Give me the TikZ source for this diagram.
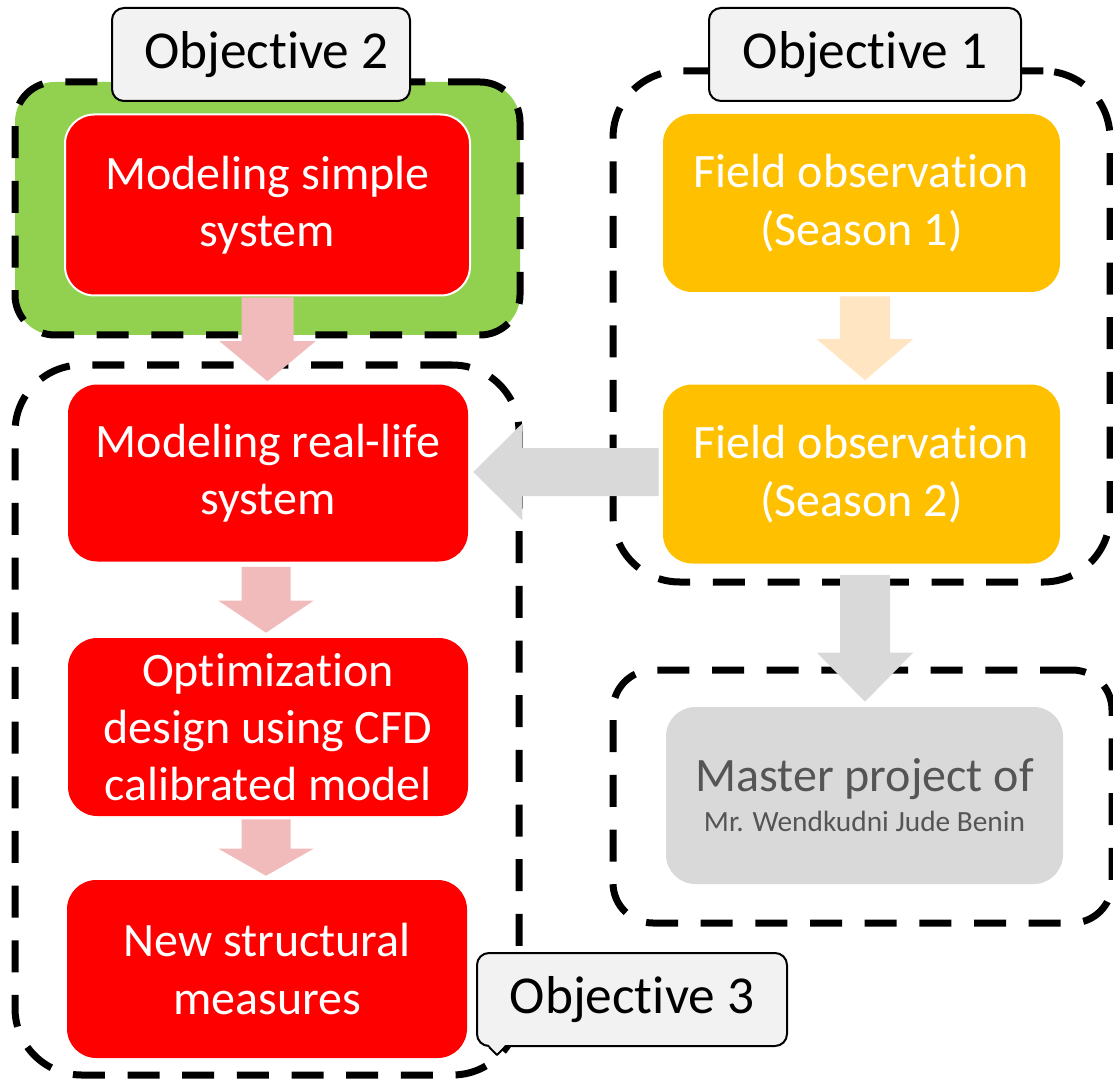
\documentclass[tikz,border=0pt]{standalone}
\usepackage{fontspec}
\setmainfont{Carlito}[Ligatures={NoCommon}]
\usetikzlibrary{calc}
\definecolor{cred}{HTML}{FF0000}
\definecolor{cgreen}{HTML}{92D050}
\definecolor{corange}{HTML}{FFC000}
\definecolor{cpink}{HTML}{F1BBBB}
\definecolor{cpeach}{HTML}{FFE5C2}
\definecolor{cgray}{HTML}{D9D9D9}
\definecolor{clabel}{HTML}{F2F2F2}
\definecolor{ctext}{HTML}{555555}
\newcommand\blkdown[6]{%
  \coordinate (bdS) at (#1);
  \coordinate (bdT) at (#1|-#2);
  \fill[#6] ($(bdS)+(-#3,0)$) -- ($(bdT)+(-#3,-#5)$) -- ($(bdT)+(-#4,-#5)$) -- (bdT)
    -- ($(bdT)+(#4,-#5)$) -- ($(bdT)+(#3,-#5)$) -- ($(bdS)+(#3,0)$) -- cycle;}
\newcommand\blkleft[6]{%
  \coordinate (blS) at (#1);
  \coordinate (blT) at (#2|-#1);
  \fill[#6] ($(blS)+(0,-#3)$) -- ($(blT)+(#5,-#3)$) -- ($(blT)+(#5,-#4)$) -- (blT)
    -- ($(blT)+(#5,#4)$) -- ($(blT)+(#5,#3)$) -- ($(blS)+(0,#3)$) -- cycle;}
\begin{document}
\begin{tikzpicture}[x=0.75pt,y=-0.75pt,
  grp/.style={draw=black, line width=5.25pt, dash pattern=on 24pt off 17pt,
    rounded corners=#1, inner sep=0pt},
  box/.style={rounded corners=22pt, inner sep=0pt, align=center,
    font=\fontsize{36}{43}\selectfont, minimum width=300pt, minimum height=133.5pt},
  redbox/.style={box, fill=cred, text=white},
  orgbox/.style={box, fill=corange, text=white},
  lbl/.style={draw=black, line width=1.5pt, fill=clabel, rounded corners=9pt,
    inner sep=0pt, minimum height=69.75pt, font=\fontsize{40}{48}\selectfont}
]
\useasboundingbox (0,0) rectangle (1113,1080);
% groups
\node[grp=30pt, fill=cgreen, minimum width=378.75pt, minimum height=189.75pt] (g2) at (267.5,208.5) {};
\node[grp=50pt, minimum width=378pt, minimum height=532.5pt] (g3) at (267,720) {};
\node[grp=50pt, minimum width=372.75pt, minimum height=383.25pt] (g1) at (861.5,326.5) {};
\node[grp=30pt, minimum width=374.25pt, minimum height=189.75pt] (gm) at (862.5,796.5) {};
% boxes
\node[redbox, draw=white, line width=1.5pt, minimum width=303.75pt, minimum height=135.75pt] (simple) at (267.5,205) {Modeling simple\\system};
\node[redbox, minimum height=132.75pt] (real) at (268,473) {Modeling real-life\\system};
\node[redbox] (optim) at (268,727) {Optimization\\design using CFD\\calibrated model};
\node[redbox] (newm) at (267,969) {New structural\\measures};
\node[orgbox, minimum width=297.75pt] (fs1) at (861.5,203) {Field observation\\(Season 1)};
\node[orgbox, minimum width=297.75pt, minimum height=134.25pt] (fs2) at (861.5,474) {Field observation\\(Season 2)};
\node[box, fill=cgray, text=ctext, minimum width=297.75pt, minimum height=132.75pt] (master) at (864.5,795.5)
  {\raisebox{-4pt}{Master project of}\\[-9pt]{\fontsize{22}{26}\selectfont Mr. Wendkudni Jude Benin}};
% arrows
\coordinate (a1s) at ($(simple.south)+(0,1)$);
\coordinate (a1t) at ($(real.north)+(0,-3)$);
\blkdown{a1s}{a1t}{26}{48}{40}{cpink}
\coordinate (a2s) at ($(real.south)+(-2,5)$);
\coordinate (a2t) at ($(optim.north)+(0,-5)$);
\blkdown{a2s}{a2t}{24.5}{47.5}{32}{cpink}
\coordinate (a3s) at ($(optim.south)+(-2,3)$);
\coordinate (a3t) at ($(newm.north)+(0,-4)$);
\blkdown{a3s}{a3t}{24.5}{47.5}{27}{cpink}
\coordinate (a4s) at ($(fs1.south)+(3.5,4)$);
\coordinate (a4t) at ($(fs2.north)+(0,-4)$);
\blkdown{a4s}{a4t}{25}{48}{41}{cpeach}
\coordinate (a5s) at ($(fs2.south)+(3.5,11)$);
\coordinate (a5t) at ($(master.north)+(0,-5)$);
\blkdown{a5s}{a5t}{25}{48}{49}{cgray}
\coordinate (a6s) at ($(fs2.west)+(-4,-2)$);
\coordinate (a6t) at ($(real.east)+(5,0)$);
\blkleft{a6s}{a6t}{24}{48.5}{49}{cgray}
% labels
\node[lbl, minimum width=223.5pt] (o2) at (261,54.5) {\hspace*{8pt}Objective 2};
\node[lbl, minimum width=234pt] (o1) at (865,54.5) {Objective 1};
\node[lbl, minimum width=232.5pt] (o3) at (632,999.5) {Objective 3};
\coordinate (n1) at ($(o3.south west)+(13,0)$);
\coordinate (n2) at ($(o3.south west)+(21,8)$);
\coordinate (n3) at ($(o3.south west)+(29,0)$);
\fill[clabel] ($(n1)+(0,-2)$) -- (n2) -- ($(n3)+(0,-2)$) -- cycle;
\draw[black, line width=1.5pt, line join=round] (n1) -- (n2) -- (n3);
\end{tikzpicture}
\end{document}
